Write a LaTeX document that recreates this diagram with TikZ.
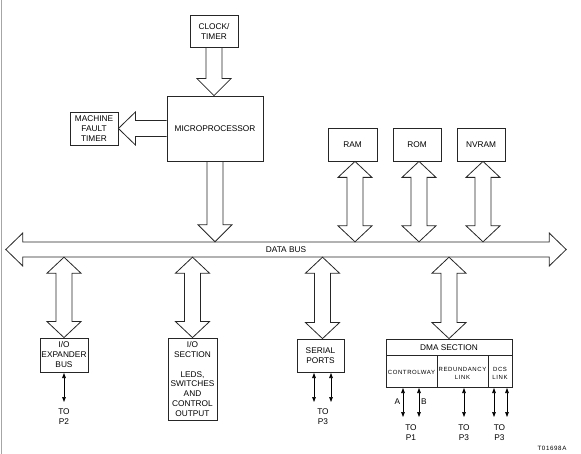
\documentclass[tikz,border=0pt]{standalone}
\usepackage{fontspec}
\setmainfont{Liberation Sans}
\newfontfamily\smallf[LetterSpace=10]{Liberation Sans}
\usetikzlibrary{calc,arrows.meta}
\newcommand\fatdown[2]{%
 \draw[fat] let \p1=(#1), \p2=(#2) in (\x1-8pt,\y1) -- (\x1-8pt,\y2+17pt) -- (\x1-17pt,\y2+17pt) -- (\x1,\y2) -- (\x1+17pt,\y2+17pt) -- (\x1+8pt,\y2+17pt) -- (\x1+8pt,\y1);}
\newcommand\fatdbl[2]{%
 \draw[fat] let \p1=(#1), \p2=(#2) in (\x1,\y1) -- (\x1+17pt,\y1-16pt) -- (\x1+8pt,\y1-16pt) -- (\x1+8pt,\y2+16pt) -- (\x1+17pt,\y2+16pt) -- (\x1,\y2) -- (\x1-17pt,\y2+16pt) -- (\x1-8pt,\y2+16pt) -- (\x1-8pt,\y1-16pt) -- (\x1-17pt,\y1-16pt) -- cycle;}
\begin{document}
\begin{tikzpicture}[x=1pt,y=-1pt,
  every node/.style={font=\fontsize{8.3}{10}\selectfont, inner sep=0pt},
  blk/.style={draw=black!85, line width=0.8pt, align=center},
  fat/.style={draw=black!85, line width=0.8pt, line join=miter},
  sig/.style={draw=black, line width=0.7pt, >={Triangle[length=5pt,width=3.6pt]}, <->},
  lbl/.style={align=center},
  tiny/.style={font=\fontsize{6}{8}\smallf, align=center}]
\useasboundingbox (0,0) rectangle (581,454);
\draw[black!35, line width=1pt] (1,0) -- (1,454);

% top blocks
\node[blk, minimum width=48pt, minimum height=32pt] (clock) at (214,31) {CLOCK/\\TIMER};
\node[blk, minimum width=96pt, minimum height=65pt] (micro) at (215,128.5) {MICROPROCESSOR};
\node[blk, minimum width=48pt, minimum height=33pt] (mft) at (94,128.5) {MACHINE\\FAULT\\TIMER};
\node[blk, minimum width=49pt, minimum height=33pt] (ram) at (352.5,144.5) {RAM};
\node[blk, minimum width=48pt, minimum height=33pt] (rom) at (417,144.5) {ROM};
\node[blk, minimum width=48pt, minimum height=33pt] (nvram) at (481,144.5) {NVRAM};

% data bus
\node[minimum width=560pt, minimum height=15pt] (bus) at (286,249.5) {DATA BUS};
\draw[fat] let \p1=(bus.west), \p2=(bus.east) in
  (\x1,\y1) -- (\x1+17pt,\y1+16.5pt) -- (\x1+17pt,\y1+7.5pt) -- (\x2-17pt,\y1+7.5pt) -- (\x2-17pt,\y1+16.5pt) -- (\x2,\y1)
  -- (\x2-17pt,\y1-16.5pt) -- (\x2-17pt,\y1-7.5pt) -- (\x1+17pt,\y1-7.5pt) -- (\x1+17pt,\y1-16.5pt) -- cycle;

% bottom blocks
\node[blk, minimum width=48pt, minimum height=34pt] (ioe) at (64,355) {I/O\\EXPANDER\\BUS};
\node[blk, minimum width=49pt, minimum height=82pt, font=\fontsize{8.3}{9.8}\selectfont] (ios) at (192.5,379) {I/O\\SECTION\\ \\LEDS,\\SWITCHES\\AND\\CONTROL\\OUTPUT};
\node[blk, minimum width=47pt, minimum height=33pt] (ser) at (320.5,355.5) {SERIAL\\PORTS};
\node[blk, minimum width=126pt, minimum height=48pt] (dma) at (449,363) {};
\node[lbl] (dmat) at (449,347.5) {DMA SECTION};
\coordinate (h1) at (386,355);
\coordinate (h2) at (512,355);
\coordinate (v1) at (437,355);
\coordinate (v2) at (488,355);
\draw[black!85, line width=0.8pt] (h1) -- (h2);
\draw[black!85, line width=0.8pt] (v1) -- (v1 |- dma.south);
\draw[black!85, line width=0.8pt] (v2) -- (v2 |- dma.south);
\node[tiny] (cw) at (411.5,372.5) {CONTROLWAY};
\node[tiny] (rl) at (462.5,373) {REDUNDANCY\\LINK};
\node[tiny] (dl) at (500,373) {DCS\\LINK};

% fat arrows
\fatdown{clock.south}{micro.north}
\draw[fat] let \p1=(micro.west), \p2=(mft.east) in
  (\x1,\y1+8pt) -- (\x2+17pt,\y1+8pt) -- (\x2+17pt,\y1+16.5pt) -- (\x2,\y1) -- (\x2+17pt,\y1-16.5pt) -- (\x2+17pt,\y1-8pt) -- (\x1,\y1-8pt);
\fatdown{micro.south}{micro.south |- bus.north}
\coordinate (ramT) at ([xshift=2.5pt]ram.south);
\coordinate (romT) at ([xshift=2pt]rom.south);
\coordinate (nvT) at ([xshift=2pt]nvram.south);
\fatdbl{ramT}{ramT |- bus.north}
\fatdbl{romT}{romT |- bus.north}
\fatdbl{nvT}{nvT |- bus.north}
\coordinate (ioeT) at (ioe.north);
\coordinate (iosT) at (ios.north);
\coordinate (serT) at ([xshift=2pt]ser.north);
\coordinate (dmaT) at (dma.north);
\fatdbl{ioeT |- bus.south}{ioeT}
\fatdbl{iosT |- bus.south}{iosT}
\fatdbl{serT |- bus.south}{serT}
\fatdbl{dmaT |- bus.south}{dmaT}

% thin arrows and destinations
\coordinate (e1a) at (64,373);
\coordinate (e1) at (64,402);
\draw[sig] (e1a) -- (e1);
\node[lbl] (p2) at (64,417) {TO\\P2};
\coordinate (s1a) at (314,373); \coordinate (s1b) at (314,402);
\coordinate (s2a) at (331,373); \coordinate (s2b) at (331,402);
\draw[sig] (s1a) -- (s1b);
\draw[sig] (s2a) -- (s2b);
\node[lbl] (p3a) at (323,417) {TO\\P3};

\coordinate (aT) at (403,388); \coordinate (aB) at (403,417);
\coordinate (bT) at (419,388); \coordinate (bB) at (419,417);
\coordinate (rT) at (464,388); \coordinate (rB) at (464,417);
\coordinate (d1T) at (494,388); \coordinate (d1B) at (494,417);
\coordinate (d2T) at (507,388); \coordinate (d2B) at (507,417);
\draw[sig] (aT) -- (aB);
\draw[sig] (bT) -- (bB);
\draw[sig] (rT) -- (rB);
\draw[sig] (d1T) -- (d1B);
\draw[sig] (d2T) -- (d2B);
\node (la) at (397.5,402) {A};
\node (lb) at (424,402) {B};
\node[lbl] (p1) at (411,433) {TO\\P1};
\node[lbl] (p3b) at (464,433) {TO\\P3};
\node[lbl] (p3c) at (499.5,433) {TO\\P3};
\node[font=\fontsize{6.2}{8}\smallf] (tag) at (552,448) {T01698A};
\end{tikzpicture}
\end{document}
